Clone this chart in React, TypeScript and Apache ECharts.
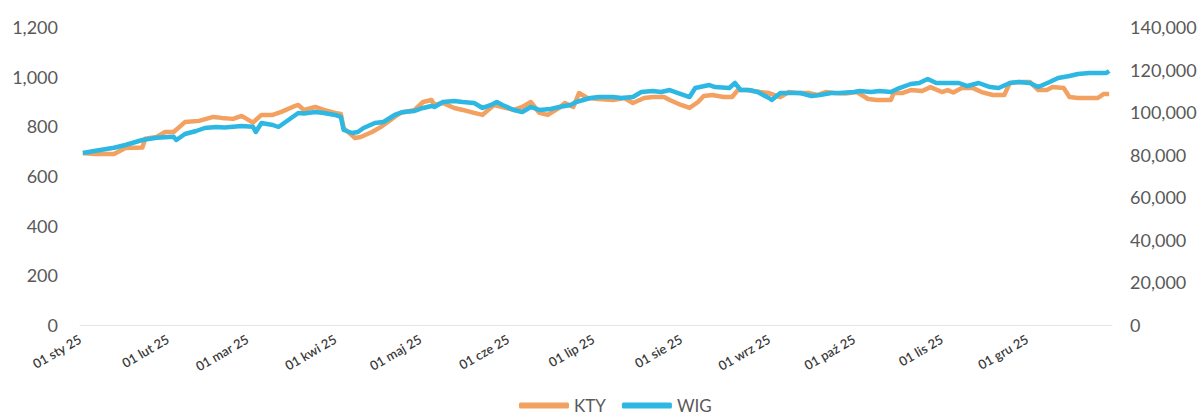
import React, { useEffect, useRef } from "react";
import * as echarts from "echarts";

const monthLabels = ["sty", "lut", "mar", "kwi", "maj", "cze", "lip", "sie", "wrz", "paź", "lis", "gru"];
const yearSuffix = "25";

const leftTicks = { min: 0, max: 1200, interval: 200 };
const rightTicks = { min: 0, max: 140000, interval: 20000 };

const seriesNames = ["KTY", "WIG"];

const ktyData: [string, number][] = [
  ["2025-01-02", 693], ["2025-01-06", 689], ["2025-01-13", 689], ["2025-01-17", 713], ["2025-01-23", 715],
  ["2025-01-24", 750], ["2025-01-28", 757], ["2025-01-31", 777], ["2025-02-03", 777], ["2025-02-05", 797],
  ["2025-02-07", 817], ["2025-02-12", 822], ["2025-02-17", 838], ["2025-02-20", 834], ["2025-02-24", 830],
  ["2025-02-27", 842], ["2025-03-03", 815], ["2025-03-06", 846], ["2025-03-10", 846], ["2025-03-13", 858],
  ["2025-03-17", 878], ["2025-03-19", 886], ["2025-03-21", 866], ["2025-03-25", 878], ["2025-03-28", 866],
  ["2025-04-01", 854], ["2025-04-03", 850], ["2025-04-04", 793], ["2025-04-08", 753], ["2025-04-10", 757],
  ["2025-04-14", 777], ["2025-04-17", 797], ["2025-04-22", 838], ["2025-04-24", 854], ["2025-04-29", 866],
  ["2025-05-02", 898], ["2025-05-05", 906], ["2025-05-06", 886], ["2025-05-09", 894], ["2025-05-13", 874],
  ["2025-05-16", 866], ["2025-05-20", 854], ["2025-05-23", 846], ["2025-05-27", 886], ["2025-05-30", 878],
  ["2025-06-03", 866], ["2025-06-06", 878], ["2025-06-09", 898], ["2025-06-12", 854], ["2025-06-15", 846],
  ["2025-06-19", 874], ["2025-06-21", 894], ["2025-06-24", 878], ["2025-06-26", 934], ["2025-06-29", 914],
  ["2025-07-03", 910], ["2025-07-08", 906], ["2025-07-12", 914], ["2025-07-15", 894], ["2025-07-19", 914],
  ["2025-07-22", 918], ["2025-07-26", 918], ["2025-07-28", 906], ["2025-08-01", 886], ["2025-08-04", 874],
  ["2025-08-07", 898], ["2025-08-09", 922], ["2025-08-12", 926], ["2025-08-16", 918], ["2025-08-19", 918],
  ["2025-08-21", 946], ["2025-08-24", 946], ["2025-08-29", 938], ["2025-09-01", 934], ["2025-09-05", 918],
  ["2025-09-08", 938], ["2025-09-11", 934], ["2025-09-15", 934], ["2025-09-18", 926], ["2025-09-21", 938],
  ["2025-09-24", 934], ["2025-09-28", 932], ["2025-10-02", 938], ["2025-10-06", 910], ["2025-10-09", 906],
  ["2025-10-14", 906], ["2025-10-15", 934], ["2025-10-18", 934], ["2025-10-21", 946], ["2025-10-25", 942],
  ["2025-10-28", 958], ["2025-11-01", 938], ["2025-11-03", 946], ["2025-11-05", 936], ["2025-11-08", 954],
  ["2025-11-12", 954], ["2025-11-15", 938], ["2025-11-19", 926], ["2025-11-23", 926], ["2025-11-25", 975],
  ["2025-11-29", 979], ["2025-12-02", 979], ["2025-12-05", 946], ["2025-12-08", 946], ["2025-12-10", 958],
  ["2025-12-14", 954], ["2025-12-16", 918], ["2025-12-19", 914], ["2025-12-22", 914], ["2025-12-26", 914],
  ["2025-12-28", 930], ["2025-12-30", 930],
];

const wigData: [string, number][] = [
  ["2025-01-02", 80800], ["2025-01-06", 81750], ["2025-01-13", 83300], ["2025-01-17", 84560], ["2025-01-23", 86910],
  ["2025-01-28", 88000], ["2025-02-03", 88460], ["2025-02-04", 86910], ["2025-02-07", 89730], ["2025-02-11", 91140],
  ["2025-02-14", 92550], ["2025-02-18", 93020], ["2025-02-21", 92800], ["2025-02-27", 93490], ["2025-03-03", 93160],
  ["2025-03-04", 90670], ["2025-03-06", 94900], ["2025-03-10", 93960], ["2025-03-12", 93020], ["2025-03-17", 97720],
  ["2025-03-19", 99600], ["2025-03-21", 99400], ["2025-03-25", 100070], ["2025-03-28", 99600], ["2025-04-01", 98660],
  ["2025-04-03", 97720], ["2025-04-04", 91610], ["2025-04-07", 90200], ["2025-04-09", 90670], ["2025-04-11", 92550],
  ["2025-04-15", 94900], ["2025-04-18", 95370], ["2025-04-22", 98660], ["2025-04-25", 100070], ["2025-04-29", 100540],
  ["2025-05-02", 101950], ["2025-05-05", 102890], ["2025-05-06", 102420], ["2025-05-09", 104770], ["2025-05-13", 105240],
  ["2025-05-16", 104770], ["2025-05-20", 104300], ["2025-05-23", 101950], ["2025-05-26", 103360], ["2025-05-28", 104770],
  ["2025-05-30", 103360], ["2025-06-03", 101010], ["2025-06-06", 100070], ["2025-06-09", 102420], ["2025-06-12", 101010],
  ["2025-06-16", 101480], ["2025-06-19", 102420], ["2025-06-23", 103360], ["2025-06-25", 104770], ["2025-06-30", 106640],
  ["2025-07-03", 107110], ["2025-07-08", 107110], ["2025-07-11", 106640], ["2025-07-15", 107110], ["2025-07-18", 109460],
  ["2025-07-22", 109930], ["2025-07-25", 109460], ["2025-07-28", 110400], ["2025-07-31", 108990], ["2025-08-04", 107110],
  ["2025-08-06", 111340], ["2025-08-11", 112750], ["2025-08-13", 111810], ["2025-08-18", 111340], ["2025-08-20", 113690],
  ["2025-08-22", 110400], ["2025-08-25", 110400], ["2025-08-28", 109460], ["2025-09-01", 106640], ["2025-09-02", 105710],
  ["2025-09-05", 108990], ["2025-09-09", 108990], ["2025-09-12", 108990], ["2025-09-16", 107580], ["2025-09-19", 108050],
  ["2025-09-23", 108990], ["2025-09-26", 108990], ["2025-10-01", 109460], ["2025-10-03", 109930], ["2025-10-07", 109460],
  ["2025-10-10", 109930], ["2025-10-14", 109460], ["2025-10-17", 111340], ["2025-10-21", 113220], ["2025-10-24", 113690],
  ["2025-10-27", 115570], ["2025-10-30", 113690], ["2025-11-03", 113690], ["2025-11-07", 113690], ["2025-11-10", 112280],
  ["2025-11-14", 113690], ["2025-11-18", 111810], ["2025-11-21", 111340], ["2025-11-25", 113690], ["2025-11-28", 114160],
  ["2025-12-02", 113690], ["2025-12-05", 111810], ["2025-12-09", 114160], ["2025-12-12", 116040], ["2025-12-16", 116980],
  ["2025-12-19", 117920], ["2025-12-23", 118390], ["2025-12-29", 118390], ["2025-12-30", 119330],
];

const FONT = "Lato, 'Open Sans', sans-serif";

const toTs = (s: string) => {
  const [y, m, d] = s.split("-").map(Number);
  return new Date(y, m - 1, d).getTime();
};

export default function App() {
  const ref = useRef<HTMLDivElement>(null);

  useEffect(() => {
    document.body.style.margin = "0";
    if (!ref.current) return;
    const chart = echarts.init(ref.current, null, { renderer: "svg" });
    const monthStarts = monthLabels.map((_, i) => new Date(2025, i, 1).getTime());
    const num = (v: number) => v.toLocaleString("en-US");

    chart.setOption({
      animation: false,
      backgroundColor: "#ffffff",
      grid: { left: 80, right: 91, top: 27, bottom: 94, containLabel: false },
      legend: {
        data: seriesNames,
        top: 392,
        left: 514,
        icon: "roundRect",
        itemWidth: 50,
        itemHeight: 6,
        itemGap: 16,
        textStyle: { fontFamily: FONT, fontSize: 17, color: "#595959" },
      },
      xAxis: {
        type: "value",
        min: new Date(2025, 0, 1).getTime(),
        max: new Date(2025, 11, 31).getTime(),
        axisLine: { show: true, lineStyle: { color: "#E6E6E6", width: 1 } },
        axisTick: { show: false },
        splitLine: { show: false },
        axisLabel: {
          customValues: monthStarts,
          rotate: 30,
          margin: 13,
          fontFamily: FONT,
          fontSize: 13,
          fontWeight: 600,
          color: "#3a3a3a",
          hideOverlap: false,
          formatter: (v: number) => {
            const d = new Date(v);
            return "01 " + monthLabels[d.getMonth()] + " " + yearSuffix;
          },
        },
      },
      yAxis: [
        {
          type: "value",
          position: "left",
          ...leftTicks,
          axisLine: { show: false },
          axisTick: { show: false },
          splitLine: { show: false },
          axisLabel: { fontFamily: FONT, fontSize: 18, color: "#595959", margin: 22, formatter: num },
        },
        {
          type: "value",
          position: "right",
          ...rightTicks,
          axisLine: { show: false },
          axisTick: { show: false },
          splitLine: { show: false },
          axisLabel: { fontFamily: FONT, fontSize: 18, color: "#595959", margin: 18, formatter: num },
        },
      ],
      series: [
        {
          name: seriesNames[0],
          type: "line",
          yAxisIndex: 0,
          data: ktyData.map(([d, v]) => [toTs(d), v]),
          showSymbol: false,
          symbol: "none",
          lineStyle: { color: "#F2A160", width: 4.5, join: "round" },
          itemStyle: { color: "#F2A160" },
        },
        {
          name: seriesNames[1],
          type: "line",
          yAxisIndex: 1,
          data: wigData.map(([d, v]) => [toTs(d), v]),
          showSymbol: false,
          symbol: "none",
          lineStyle: { color: "#2DB7E3", width: 4.5, join: "round" },
          itemStyle: { color: "#2DB7E3" },
        },
      ],
    });
    return () => chart.dispose();
  }, []);

  return <div ref={ref} style={{ width: 1203, height: 419 }} />;
}
